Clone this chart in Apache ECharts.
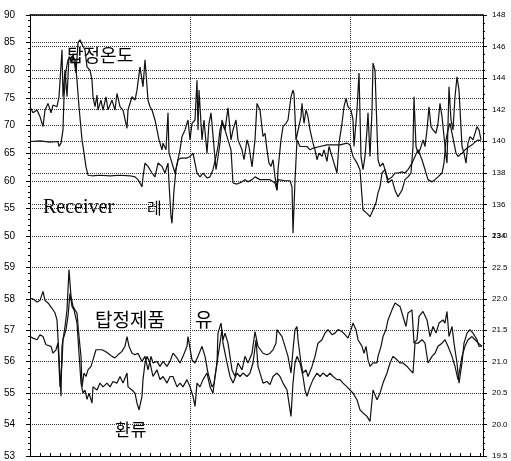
<!DOCTYPE html>
<html>
<head>
<meta charset="utf-8">
<script src="https://cdn.jsdelivr.net/npm/echarts@6/dist/echarts.min.js"></script>
<style>html,body{margin:0;padding:0;background:#fff}#c{width:511px;height:461px}</style>
</head>
<body>
<div id="c"></div>
<script>
// time offsets (sample index) and values
const topTempData = [[0,73.4],[3,72.3],[7,72.8],[10,71.6],[13,69.8],[15,72.8],[18,74],[21,72.3],[23,73.7],[27,73.4],[29,75.2],[32,83.7],[33,75.2],[35,80],[37,75.2],[39,82.5],[42,81.3],[43,83],[46,79.5],[48,85],[50,85.5],[52,85.8],[53,84.3],[55,83.7],[57,80.6],[60,80],[62,78.2],[63,75.2],[65,73.4],[67,75.5],[68,72.8],[71,74.6],[73,72.8],[76,75.2],[78,72.8],[82,74.6],[85,72.8],[87,75.8],[90,73.4],[93,72.8],[97,69.5],[98,72.8],[102,75.2],[105,74.6],[107,76.4],[110,80.6],[113,77],[115,81.9],[118,74.6],[120,73.4],[122,72.8],[125,71],[127,69.2],[129,67.4],[132,65.6],[133,66.8],[136,65.6],[138,72.3],[139,65],[142,63.2],[145,61.4],[148,63.8],[150,65.6],[152,68],[155,69.2],[158,71],[160,67.4],[162,70.4],[165,71],[167,78.2],[168,69.2],[169,76.4],[172,67.4],[174,71],[177,65],[179,70.4],[181,72.3],[183,72.5],[186,62],[188,64.3],[190,66.8],[192,71],[195,69.2],[198,73.2],[201,67.4],[203,69.2],[206,71],[208,67.4],[212,65.6],[214,63.8],[217,67.4],[219,66.2],[222,62.5],[225,67.4],[227,74],[230,72.8],[233,68],[235,68.6],[237,65.6],[239,63.2],[241,62.6],[243,63.8],[245,60.7],[247,58.3],[248,62],[251,67.4],[253,69.8],[256,70.4],[258,71],[261,75.2],[263,76.4],[264,75.8],[266,67.4],[268,67.4],[271,71.6],[272,74],[274,70.4],[276,72.8],[278,71.6],[280,69.2],[283,66.8],[285,65.6],[287,63.8],[289,65],[292,64.4],[294,65.6],[297,63.5],[299,66.2],[302,64.4],[304,63.2],[307,61.4],[309,66.8],[312,70.4],[314,73.4],[316,74.9],[318,73.4],[321,72.8],[323,71],[324,66.2],[327,72.8],[329,79.5],[331,64.4],[333,62],[335,64.4],[337,69.2],[338,72.3],[340,64.4],[342,72.8],[343,81.3],[345,80],[347,69.2],[348,63.8],[350,62.6],[353,63.2],[355,62],[358,59.6],[362,60.2],[365,58.3],[368,57.1],[372,58.3],[375,60.2],[378,60.7],[381,61.4],[383,66.2],[384,75.2],[386,66.2],[388,65],[390,65.6],[393,67.4],[395,66.2],[397,69.2],[399,73.4],[401,69.8],[403,69.2],[406,68.6],[408,70.4],[410,74],[412,71.6],[414,68],[416,64.4],[417,63.2],[419,77],[421,71],[423,69.2],[425,75.2],[427,78.8],[429,76.4],[432,66.2],[434,65],[436,63.2],[438,66.8],[440,68],[443,67.4],[447,69.8],[449,69.2],[451,67.4]];

const receiverData = [[0,67.1],[10,67.2],[20,67],[28,67.1],[29,66.2],[31,66.8],[33,69.2],[34,75.2],[36,80],[38,81.9],[42,82.5],[45,81.9],[47,78.2],[49,73.4],[52,67.4],[54,65],[56,62.5],[58,61],[62,60.9],[70,61],[80,60.9],[90,61],[100,60.9],[105,60.7],[108,60.2],[112,58.9],[113,60.7],[115,63.2],[118,62.6],[122,61.4],[125,60.7],[128,63.2],[132,62.6],[135,61.4],[138,63.2],[139,59.6],[141,53.5],[142,52.3],[144,58.3],[146,62],[148,63.8],[151,64.1],[153,63.8],[157,64.1],[160,64.4],[163,65],[165,63.2],[167,61.4],[170,60.7],[173,61.4],[177,60.5],[180,60.7],[183,62],[186,64.4],[188,66.2],[190,69.2],[192,70.4],[195,69.2],[198,67.4],[201,65.6],[203,59.6],[207,59.4],[212,59.8],[215,60.2],[218,59.8],[222,60.2],[225,60.7],[230,60.2],[240,60.2],[245,59.6],[247,58.3],[248,60.2],[250,60],[255,60],[260,60],[262,58.9],[263,50.5],[265,60],[267,67.4],[270,66.2],[277,66.2],[280,65.6],[283,65.9],[290,66.2],[297,66.5],[303,66.5],[310,66.5],[317,66.8],[320,66.5],[323,64.4],[327,63.2],[330,62],[332,57.1],[333,54.7],[337,54.1],[340,53.5],[343,54.7],[346,56],[348,57.8],[350,58.9],[352,61.4],[355,62],[358,60.2],[362,60.7],[365,61.4],[368,61.4],[372,61.6],[375,61.4],[378,62],[382,63.2],[385,64.4],[388,65.6],[392,63.8],[395,62],[398,60.2],[402,59.8],[405,60.2],[408,60.7],[412,61.4],[414,63.2],[416,67.4],[418,69.2],[420,70.4],[422,68.6],[424,66.8],[426,65],[428,64.4],[432,65],[435,65.6],[438,66],[442,66.5],[445,67],[448,67.4],[451,67.2]];

const productData = [[0,58.02],[3,58],[7,57.9],[10,57.95],[13,58.24],[15,57.95],[18,57.87],[22,57.7],[25,57.55],[27,57.33],[29,56.17],[31,54.9],[32,56.5],[35,57.12],[37,57.65],[39,58.93],[41,58.08],[43,57.76],[45,57.65],[47,57.55],[49,56.8],[51,56.17],[52,55.2],[54,55.64],[56,55.53],[58,55.74],[61,55.85],[63,56.06],[66,56.38],[68,56.43],[72,56.38],[75,56.33],[78,56.27],[82,56.17],[85,56.12],[88,56.22],[92,56.33],[95,56.49],[97,56.8],[99,56.49],[102,56.27],[105,56.22],[108,56.27],[112,56.01],[115,56.17],[118,55.74],[121,56.17],[123,55.96],[127,56.01],[130,55.85],[133,56.01],[137,55.85],[140,56.01],[143,56.27],[147,56.12],[150,55.96],[153,56.17],[157,56.49],[158,56.8],[162,56.06],[165,55.96],[168,56.17],[172,56.49],[175,56.17],[178,55.64],[182,55.2],[184,55.3],[187,55.96],[188,56.91],[191,57.23],[193,56.7],[195,56.91],[198,56.59],[202,55.74],[205,55.53],[208,55.96],[212,55.74],[215,56.17],[218,55.96],[222,56.27],[225,56.96],[228,56.49],[230,56.49],[233,56.27],[237,56.22],[240,56.27],[243,56.38],[246,56.59],[247,57.02],[249,57.02],[252,56.8],[255,56.49],[258,56.17],[261,55.64],[263,56.38],[265,57.02],[267,57.12],[268,56.7],[271,55.96],[273,55.64],[276,55.74],[278,55.53],[282,55.85],[285,56.17],[288,56.59],[292,56.7],[295,56.91],[298,57.02],[302,56.86],[305,56.91],[308,57.02],[312,56.96],[315,56.86],[318,56.75],[321,57.02],[323,57.23],[326,57.02],[328,56.7],[332,56.49],[334,56.27],[336,56.49],[338,56.06],[340,55.85],[343,55.96],[347,55.96],[348,56.17],[351,56.49],[353,56.8],[356,57.02],[358,57.33],[362,57.65],[365,57.87],[367,57.92],[370,57.76],[373,57.44],[376,57.12],[378,57.55],[382,57.65],[384,56.59],[387,56.7],[389,57.44],[393,57.6],[395,57.65],[397,57.33],[400,56.8],[403,57.12],[406,56.91],[409,57.23],[413,57.33],[415,57.23],[417,57.6],[419,56.8],[422,57.12],[424,56.59],[427,55.96],[429,55.32],[432,55.96],[434,56.59],[437,56.91],[440,57.02],[443,56.91],[447,56.7],[449,56.49],[452,56.5]];

const refluxData = [[0,56.8],[3,56.75],[7,56.7],[10,56.86],[13,56.8],[16,56.54],[18,56.6],[21,56.49],[23,56.27],[26,56.38],[28,56.6],[30,55.2],[32,55.96],[33,56.7],[36,57.02],[38,57.44],[40,58.18],[42,57.76],[44,57.65],[47,57.23],[49,56.27],[51,55.32],[53,55],[55,55.1],[57,54.8],[59,55],[62,54.68],[63,55.2],[67,55.1],[70,55.32],[73,55.2],[77,55.32],[80,55.2],[83,55.37],[87,55.32],[90,55.53],[93,55.32],[97,55.64],[98,55.2],[102,55.1],[105,55],[107,54.68],[109,54.47],[112,54.9],[113,55.43],[115,55.96],[117,56.17],[120,55.96],[123,55.53],[127,55.74],[130,55.43],[133,55.53],[137,55.32],[140,55.53],[143,55.53],[147,55.2],[150,55.32],[153,55.2],[157,55.43],[160,55.2],[163,54.9],[165,54.58],[167,55.32],[170,55.2],[173,55.43],[177,55.64],[180,55.2],[183,55],[185,55.53],[188,56.17],[192,57.02],[193,56.59],[197,55.96],[200,55.53],[203,55.32],[207,55.64],[210,55.53],[213,55.64],[217,55.53],[220,55.64],[223,55.96],[226,56.7],[228,55.85],[232,55.43],[233,55.32],[237,55.37],[240,55.27],[243,55.53],[247,55.64],[250,55.53],[253,55.32],[257,55.1],[259,54.68],[261,54.26],[263,55.32],[265,55.96],[267,56.17],[270,55.96],[273,55.53],[275,55.1],[277,54.9],[280,55.2],[283,55.43],[287,55.64],[290,55.53],[293,55.64],[297,55.53],[300,55.64],[303,55.53],[307,55.43],[310,55.43],[313,55.32],[317,55.2],[320,55.1],[323,55],[327,54.79],[330,54.47],[333,54.37],[337,54.26],[340,54.1],[343,55.1],[347,54.79],[350,55],[353,55.32],[357,55.64],[360,55.96],[363,56.17],[367,56.06],[370,55.96],[373,55.96],[377,55.85],[380,55.74],[383,55.64],[385,56.59],[388,56.59],[392,56.7],[395,56.59],[398,55.96],[402,56.17],[405,56.27],[408,56.49],[412,56.59],[415,56.7],[418,56.49],[422,56.17],[425,55.85],[428,55.43],[432,56.17],[435,56.49],[438,56.7],[442,56.8],[445,56.7],[448,56.6],[452,56.49]];

const annotationTexts = ['탑정온도', 'Receiver', '레', '탑정제품', '유', '환류'];

const chart = echarts.init(document.getElementById('c'), null, {renderer: 'canvas'});
const dotted = {type: 'dotted', color: '#333', width: 1};
const axisLineStyle = {show: true, lineStyle: {color: '#000', width: 1}};
const lineStyle = {color: '#111', width: 1.2};
function ySide(gi, min, max, interval, pos, fs, margin, minorN, extra) {
  return Object.assign({
    type: 'value', gridIndex: gi, min: min, max: max, interval: interval, position: pos,
    axisLine: axisLineStyle,
    axisTick: {show: true, length: 4, lineStyle: {color: '#000'}},
    minorTick: {show: true, splitNumber: minorN, length: 2, lineStyle: {color: '#000'}},
    axisLabel: {color: '#000', fontSize: fs, margin: margin, fontFamily: 'Liberation Sans'},
    splitLine: {show: true, lineStyle: dotted}
  }, extra || {});
}
chart.setOption({
  animation: false,
  grid: [
    {left: 30, right: 28, top: 15, height: 221},
    {left: 30, right: 28, top: 236, height: 220}
  ],
  xAxis: [
    {type: 'value', gridIndex: 0, min: 0, max: 453, interval: 160, position: 'top',
     axisLine: {show: true, lineStyle: {color: '#000', width: 1.5}},
     axisTick: {show: false}, axisLabel: {show: false},
     splitLine: {show: true, lineStyle: dotted}},
    {type: 'value', gridIndex: 1, min: 0, max: 453, interval: 160, position: 'bottom',
     axisLine: {show: true, lineStyle: {color: '#000', width: 1}},
     axisTick: {show: true, inside: true, length: 4, lineStyle: {color: '#000'}},
     minorTick: {show: true, splitNumber: 16, length: 3, lineStyle: {color: '#000'}},
     axisLabel: {show: false},
     splitLine: {show: true, lineStyle: dotted}}
  ],
  yAxis: [
    ySide(0, 50, 90, 5, 'left', 10, 15, 5),
    ySide(0, 134, 148, 2, 'right', 8, 9, 4),
    ySide(1, 53, 60, 1, 'left', 10, 15, 5, {axisLabel: {color: '#000', fontSize: 10, margin: 15, fontFamily: 'Liberation Sans', showMaxLabel: false}}),
    ySide(1, 19.5, 23, 0.5, 'right', 8, 9, 5, {axisLabel: {color: '#000', fontSize: 8, margin: 9, fontFamily: 'Liberation Sans', formatter: v => v.toFixed(1)}})
  ],
  series: [
    {name: '탑정온도', type: 'line', xAxisIndex: 0, yAxisIndex: 0, data: topTempData, showSymbol: false, lineStyle: lineStyle},
    {name: 'Receiver 레벨', type: 'line', xAxisIndex: 0, yAxisIndex: 0, data: receiverData, showSymbol: false, lineStyle: lineStyle},
    {name: '탑정제품 유량', type: 'line', xAxisIndex: 1, yAxisIndex: 2, data: productData, showSymbol: false, lineStyle: lineStyle},
    {name: '환류', type: 'line', xAxisIndex: 1, yAxisIndex: 2, data: refluxData, showSymbol: false, lineStyle: lineStyle}
  ],
  graphic: [
    {type: 'text', left: 67, top: 46, style: {text: annotationTexts[0], font: '18px "Noto Sans CJK KR"', fill: '#000'}},
    {type: 'text', left: 43, top: 198, style: {text: annotationTexts[1], font: '20px "Liberation Serif"', fill: '#000'}},
    {type: 'text', left: 147, top: 200, style: {text: annotationTexts[2], font: '16px "Noto Sans CJK KR"', fill: '#000'}},
    {type: 'text', left: 95, top: 310, style: {text: annotationTexts[3], font: '19px "Noto Sans CJK KR"', fill: '#000'}},
    {type: 'text', left: 195, top: 310, style: {text: annotationTexts[4], font: '19px "Noto Sans CJK KR"', fill: '#000'}},
    {type: 'text', left: 115, top: 421, style: {text: annotationTexts[5], font: '17px "Noto Sans CJK KR"', fill: '#000'}}
  ]
});
</script>
</body>
</html>
